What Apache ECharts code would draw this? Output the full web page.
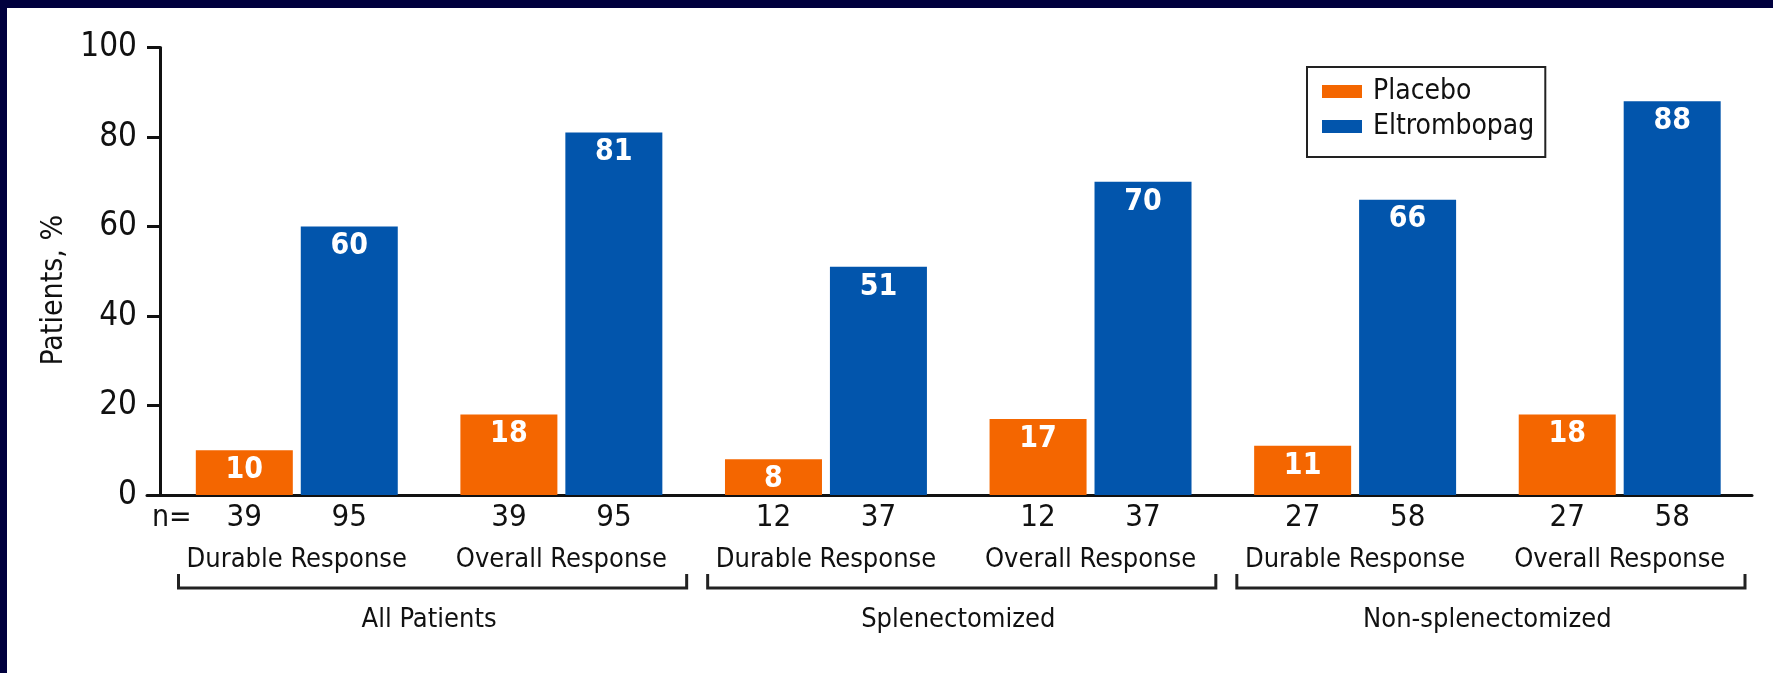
<!DOCTYPE html>
<html><head><meta charset="utf-8">
<script src="https://cdn.jsdelivr.net/npm/echarts@6/dist/echarts.min.js"></script>
<style>
html,body{margin:0;padding:0;background:#fff;}
#wrap{position:relative;width:1773px;height:673px;background:#fff;overflow:hidden}
#chart{position:absolute;left:0;top:0;width:1773px;height:673px}
.bt{position:absolute;left:0;top:0;width:1773px;height:8px;background:#00003e}
.bl{position:absolute;left:0;top:0;width:7px;height:673px;background:#00003e}
</style></head><body>
<div id="wrap"><div id="chart"></div><div class="bt"></div><div class="bl"></div></div>
<script>
const categories = ['Durable Response','Overall Response','Durable Response','Overall Response','Durable Response','Overall Response'];
const groups = ['All Patients','Splenectomized','Non-splenectomized'];
const seriesNames = ['Placebo','Eltrombopag'];
const placebo = [10,18,8,17,11,18];
const eltrombopag = [60,81,51,70,66,88];
const nPlacebo = [39,39,12,12,27,27];
const nEltrombopag = [95,95,37,37,58,58];
const yTicks = [0,20,40,60,80,100];

const FONT = '"Liberation Sans Narrow","DejaVu Sans Condensed","Arial Narrow",sans-serif';
const ORANGE = '#F46600', BLUE = '#0255AC', INK = '#111';

const chart = echarts.init(document.getElementById('chart'), null, {renderer:'canvas'});
const barLabel = {show:true, position:'insideTop', distance:5, color:'#fff', fontWeight:'bold', fontSize:30, fontFamily:FONT};

chart.setOption({
  animation:false,
  backgroundColor:'#fff',
  textStyle:{fontFamily:FONT},
  grid:[
    {left:164.5, right:21, top:47.5, bottom:178},
    {left:147, right:21, top:47.5, bottom:178}
  ],
  legend:{
    orient:'vertical', left:1307, top:67, icon:'rect',
    itemWidth:40, itemHeight:13, itemGap:0,
    padding:[7,11,13,15], borderColor:'#222', borderWidth:2,
    textStyle:{fontSize:28, lineHeight:35, fontFamily:FONT, color:INK, padding:[0,0,0,6]},
    data:seriesNames
  },
  xAxis:[
    {type:'category', gridIndex:0, data:categories.map((c,i)=>String(i)),
     axisLine:{show:false}, axisTick:{show:false},
     axisLabel:{interval:0, margin:3, color:INK,
       formatter:(v,i)=>`{n|${nPlacebo[i]}}{n|${nEltrombopag[i]}}\n{c|${categories[i]}}`,
       rich:{
         n:{width:105, align:'center', fontSize:31, lineHeight:40, fontFamily:FONT, color:INK},
         c:{fontSize:27, lineHeight:44, fontFamily:FONT, color:INK}
       }}},
    {type:'category', gridIndex:0, position:'bottom', data:groups,
     axisLine:{show:false}, axisTick:{show:false},
     axisLabel:{interval:0, margin:105, fontSize:27, lineHeight:40, fontFamily:FONT, color:INK}},
    {type:'value', gridIndex:1, min:0, max:1,
     axisLine:{show:true, lineStyle:{color:INK, width:3}}, axisTick:{show:false}, axisLabel:{show:false}, splitLine:{show:false}}
  ],
  yAxis:[
    {type:'value', gridIndex:0, min:yTicks[0], max:yTicks[yTicks.length-1], interval:yTicks[1]-yTicks[0], offset:4.5,
     name:'Patients, %', nameLocation:'middle', nameGap:71,
     nameTextStyle:{fontSize:30, fontFamily:FONT, color:INK, padding:[0,38,0,0]},
     axisLine:{show:true, lineStyle:{color:INK, width:3}},
     axisTick:{show:true, length:13, lineStyle:{color:INK, width:3}},
     axisLabel:{margin:23, fontSize:33, fontFamily:FONT, color:INK},
     splitLine:{show:false}},
    {type:'value', gridIndex:1, show:false, min:0, max:100}
  ],
  series:[
    {name:seriesNames[0], type:'bar', xAxisIndex:0, yAxisIndex:0, data:placebo, barWidth:97, barGap:'8.2%',
     itemStyle:{color:ORANGE}, label:barLabel},
    {name:seriesNames[1], type:'bar', xAxisIndex:0, yAxisIndex:0, data:eltrombopag, barWidth:97, barGap:'8.2%',
     itemStyle:{color:BLUE}, label:barLabel}
  ]
});

// brackets and "n=" label, positioned from the category axis scale
const c0 = chart.convertToPixel({xAxisIndex:0}, 0);
const c1 = chart.convertToPixel({xAxisIndex:0}, 1);
const band = c1 - c0;
const base = chart.convertToPixel({yAxisIndex:0}, 0);
const yB = base + 93;
const elements = [];
groups.forEach((g, gi) => {
  const L = chart.convertToPixel({xAxisIndex:0}, gi*2) - band/2 + 14;
  const R = chart.convertToPixel({xAxisIndex:0}, gi*2+1) + band/2 - 7;
  elements.push({type:'polyline', shape:{points:[[L,yB-14],[L,yB],[R,yB],[R,yB-14]]},
    style:{stroke:'#222', lineWidth:3, fill:null}});
});
elements.push({type:'text', x:152, y:base + 23, style:{text:'n=', fontSize:30, fontFamily:FONT, fill:INK, verticalAlign:'middle', align:'left'}});
chart.setOption({graphic:elements});
</script>
</body></html>
